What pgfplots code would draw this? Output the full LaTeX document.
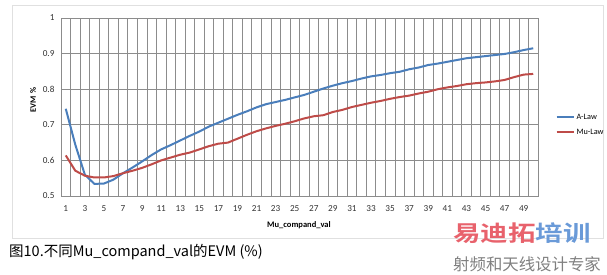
\documentclass[border=0pt]{standalone}
\usepackage{fontspec}
\setmainfont{Carlito}
\newfontfamily\cjk{Noto Sans CJK SC}
\newfontfamily\cjkb{Noto Sans CJK SC Bold}
\usepackage{pgfplots}
\usepackage{pgfplotstable}
\pgfplotsset{compat=1.18}
\definecolor{alaw}{HTML}{4A7EBB}
\definecolor{mulaw}{HTML}{BE4B48}
\definecolor{gridc}{HTML}{8C8C8C}
\definecolor{wmred}{HTML}{E8626C}
\definecolor{wmblue}{HTML}{6A9AD8}
\pgfplotstableread{
k alaw mulaw
1 0.745 0.614
2 0.644 0.571
3 0.560 0.557
4 0.534 0.552
5 0.535 0.552
6 0.546 0.556
7 0.564 0.564
8 0.580 0.571
9 0.597 0.579
10 0.615 0.589
11 0.631 0.600
12 0.643 0.608
13 0.656 0.616
14 0.669 0.622
15 0.681 0.631
16 0.695 0.640
17 0.706 0.647
18 0.717 0.650
19 0.728 0.661
20 0.738 0.672
21 0.749 0.682
22 0.758 0.690
23 0.764 0.697
24 0.770 0.703
25 0.777 0.710
26 0.784 0.718
27 0.793 0.724
28 0.802 0.727
29 0.810 0.736
30 0.817 0.742
31 0.823 0.750
32 0.830 0.756
33 0.836 0.762
34 0.840 0.767
35 0.845 0.773
36 0.849 0.778
37 0.856 0.782
38 0.861 0.788
39 0.868 0.793
40 0.872 0.800
41 0.877 0.805
42 0.882 0.809
43 0.887 0.814
44 0.890 0.817
45 0.893 0.819
46 0.896 0.822
47 0.899 0.826
48 0.904 0.834
49 0.910 0.841
50 0.915 0.843
}\evmdata
\begin{document}
\begin{tikzpicture}[x=1pt,y=1pt]
\path[use as bounding box] (0pt,0pt) rectangle (607pt,274pt);
\draw[black!12, line width=0.6pt] (12pt,36pt) rectangle (603pt,269pt);
\begin{axis}[
  at={(61pt,78pt)}, anchor=south west,
  width=477pt, height=178pt, scale only axis,
  xmin=0.5, xmax=50.5, ymin=0.5, ymax=1,
  xtick={1,3,...,49},
  minor xtick={0.5,1.5,...,50.5},
  ytick={0.5,0.6,0.7,0.8,0.9,1},
  yticklabels={0.5,0.6,0.7,0.8,0.9,1},
  xminorgrids, ymajorgrids,
  minor grid style={gridc, line width=0.7pt},
  major grid style={gridc, line width=0.7pt},
  axis line style={gridc, line width=0.7pt},
  major tick length=0pt, minor tick length=0pt,
  tick label style={font=\fontsize{9.2}{11}\selectfont, text=black!80},
  xticklabel style={yshift=-6pt},
  yticklabel style={xshift=-3pt},
  /pgf/number format/assume math mode=true,
  legend style={at={(1.03,0.40)}, anchor=west, draw=none, fill=none,
    font=\fontsize{8.2}{10}\selectfont, row sep=4pt,
    legend cell align=left},
  legend image code/.code={\draw[#1] (0pt,0pt)--(17pt,0pt);},
]
\addplot[alaw, line width=2pt] table[x=k, y=alaw] {\evmdata};
\addlegendentry{A-Law}
\addplot[mulaw, line width=2pt] table[x=k, y=mulaw] {\evmdata};
\addlegendentry{Mu-Law}
\end{axis}
\node[rotate=90, font=\bfseries\fontsize{8.3}{10}\selectfont] at (33pt,174pt) {EVM \%};
\node[font=\bfseries\fontsize{8.5}{10}\selectfont] at (299pt,49pt) {Mu\_compand\_val};
\node[anchor=west, inner sep=0pt, font=\cjk\fontsize{14.5}{16}\selectfont] at (9pt,22pt) {图10.不同Mu\_compand\_val的EVM (\%)};
\node[anchor=west, inner sep=0pt, xscale=1.25, font=\cjkb\fontsize{22}{24}\selectfont] at (453pt,41pt) {\textcolor{wmred}{易迪拓}\textcolor{wmblue}{培训}};
\node[anchor=west, inner sep=0pt, font=\cjk\fontsize{16.4}{18}\selectfont, text=black!50] at (453pt,10pt) {射频和天线设计专家};
\end{tikzpicture}
\end{document}
